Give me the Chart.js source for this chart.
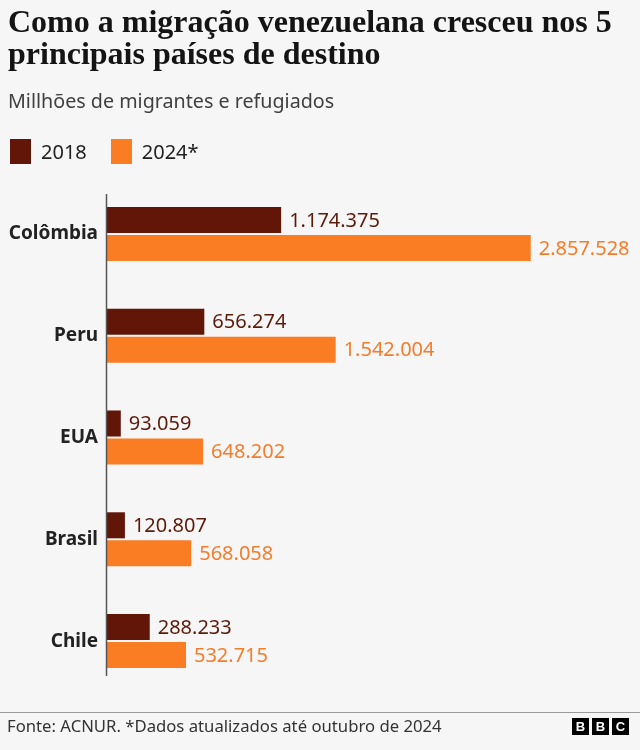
<!DOCTYPE html>
<html>
<head>
<meta charset="utf-8">
<script src="https://cdn.jsdelivr.net/npm/chart.js@4"></script>
<style>
  html, body { margin: 0; padding: 0; background: #f6f6f6; }
  body { width: 640px; height: 750px; position: relative; overflow: hidden; font-family: "Noto Sans", sans-serif; }
  #c { position: absolute; left: 0; top: 0; }
  .title { position: absolute; left: 8px; top: 5px; font-family: "Liberation Serif", serif; font-weight: bold; font-size: 32px; line-height: 32px; color: #141414; width: 632px; }
  .sub { position: absolute; left: 8px; top: 87px; font-size: 19.7px; color: #404040; }
  .legend { position: absolute; left: 10px; top: 138px; display: flex; align-items: center; font-size: 20px; color: #222; }
  .sw { width: 21px; height: 25px; display: inline-block; margin-right: 10px; }
  .item { display: flex; align-items: center; margin-right: 24px; }
  .rule { position: absolute; left: 0; top: 712px; width: 640px; height: 1px; background: #9a9a9a; }
  .foot { position: absolute; left: 7px; top: 714px; font-size: 16.7px; color: #333; }
  .bbc { position: absolute; left: 572px; top: 718px; display: flex; }
  .bbc span { width: 17px; height: 17px; background: #000; color: #fff; font-weight: bold; font-size: 13px; line-height: 17px; text-align: center; margin-right: 3px; font-family: "Liberation Sans", sans-serif; }
</style>
</head>
<body>
<canvas id="c" width="640" height="750"></canvas>
<div class="title">Como a migração venezuelana cresceu nos 5 principais países de destino</div>
<div class="sub">Millhões de migrantes e refugiados</div>
<div class="legend">
  <div class="item"><span class="sw" style="background:#611607"></span>2018</div>
  <div class="item"><span class="sw" style="background:#fa7c23"></span>2024*</div>
</div>
<div class="rule"></div>
<div class="foot">Fonte: ACNUR. *Dados atualizados até outubro de 2024</div>
<div class="bbc"><span>B</span><span>B</span><span>C</span></div>
<script>
const categories = ["Colômbia", "Peru", "EUA", "Brasil", "Chile"];
const values2018 = [1174375, 656274, 93059, 120807, 288233];
const values2024 = [2857528, 1542004, 648202, 568058, 532715];
const seriesLabels = ["2018", "2024*"];

const COL2018 = "#611607", COL2024 = "#fa7c23";
const LAB2018 = "#5c1a0b", LAB2024 = "#f47d2b";

function fmt(v) { return String(v).replace(/\B(?=(\d{3})+(?!\d))/g, "."); }

const labelPlugin = {
  id: "valueLabels",
  afterDatasetsDraw(chart) {
    const ctx = chart.ctx;
    ctx.save();
    ctx.font = "20px 'Noto Sans'";
    ctx.textBaseline = "middle";
    ctx.textAlign = "left";
    chart.data.datasets.forEach((ds, di) => {
      const meta = chart.getDatasetMeta(di);
      ctx.fillStyle = di === 0 ? LAB2018 : LAB2024;
      meta.data.forEach((el, i) => {
        ctx.fillText(fmt(ds.data[i]), el.x + 8, el.y + 1);
      });
    });
    ctx.restore();
  }
};

const axisLinePlugin = {
  id: "axisLine",
  afterDatasetsDraw(chart) {
    const a = chart.chartArea, ctx = chart.ctx;
    ctx.save();
    ctx.strokeStyle = "#555";
    ctx.lineWidth = 1.5;
    ctx.beginPath();
    ctx.moveTo(a.left - 0.5, a.top + 11);
    ctx.lineTo(a.left - 0.5, a.bottom - 16);
    ctx.stroke();
    ctx.restore();
  }
};

new Chart(document.getElementById("c"), {
  type: "bar",
  data: {
    labels: categories,
    datasets: [
      { label: seriesLabels[0], data: values2018, backgroundColor: COL2018 },
      { label: seriesLabels[1], data: values2024, backgroundColor: COL2024 }
    ]
  },
  options: {
    indexAxis: "y",
    responsive: false,
    animation: false,
    devicePixelRatio: 1,
    categoryPercentage: 0.55,
    barPercentage: 0.93,
    layout: { padding: { top: 183, bottom: 58, left: 0, right: 14 } },
    plugins: { legend: { display: false }, tooltip: { enabled: false } },
    scales: {
      x: { display: false, min: 0, max: 3500000 },
      y: {
        grid: { display: false, drawTicks: false },
        border: { display: false },
        ticks: { color: "#222", font: { family: "Noto Sans", size: 19, weight: "bold" }, padding: 9 },
        afterFit(s) { s.width = 107; }
      }
    }
  },
  plugins: [labelPlugin, axisLinePlugin]
});
</script>
</body>
</html>
